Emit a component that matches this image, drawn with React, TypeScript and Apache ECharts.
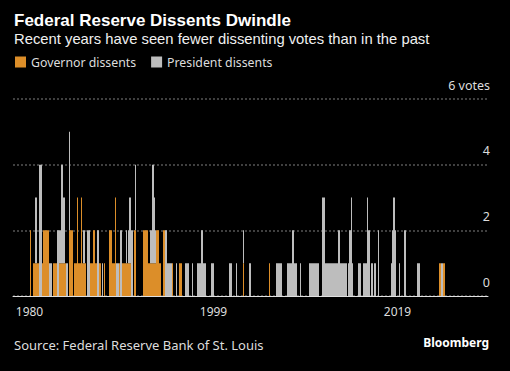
import React, { useEffect, useRef } from "react";
import * as echarts from "echarts";

// One category slot per meeting position along the axis
const MEETING_SLOTS = 475;
const tickMeetings = [16, 200, 384];
const tickLabels = ["1980", "1999", "2019"];
const voteMax = 6;
const voteInterval = 2;

// [firstMeeting, lastMeeting, votes]
const governorRuns: number[][] = [
  [17, 17, 2], [20, 25, 1], [29, 29, 1], [30, 35, 2], [40, 43, 1], [46, 52, 1],
  [56, 59, 2], [61, 63, 1], [64, 64, 3], [65, 67, 1], [68, 68, 3], [69, 72, 1],
  [77, 79, 1], [80, 81, 2], [82, 83, 1], [86, 87, 1], [91, 91, 1], [96, 98, 2],
  [99, 101, 1], [102, 102, 3], [106, 106, 1], [109, 117, 1], [121, 122, 2],
  [130, 134, 2], [135, 142, 1], [143, 145, 2], [146, 147, 1], [150, 151, 2],
  [159, 159, 1], [166, 168, 1], [230, 230, 1], [256, 256, 1], [426, 427, 1],
  [430, 431, 1],
];

const presidentRuns: number[][] = [
  [22, 23, 2], [26, 28, 4], [36, 38, 1], [44, 45, 2], [46, 47, 1], [48, 49, 3],
  [50, 51, 2], [53, 54, 1], [56, 56, 3], [70, 71, 1], [74, 76, 2], [84, 85, 2],
  [89, 89, 1], [103, 105, 1], [107, 108, 2], [113, 113, 1], [115, 115, 1],
  [116, 117, 2], [118, 119, 2], [122, 122, 2], [137, 138, 1], [139, 140, 3],
  [141, 141, 2], [142, 142, 1], [152, 153, 2], [154, 158, 1], [163, 163, 1],
  [172, 175, 1], [179, 179, 1], [184, 187, 1], [188, 189, 2], [190, 192, 1],
  [198, 200, 1], [216, 218, 1], [223, 223, 1], [230, 230, 1], [236, 237, 1],
  [263, 268, 1], [274, 278, 1], [279, 280, 2], [281, 283, 1], [287, 287, 1],
  [296, 305, 1], [309, 311, 3], [312, 324, 1], [325, 326, 2], [327, 333, 1],
  [335, 335, 1], [336, 337, 2], [338, 338, 3], [339, 339, 1], [345, 347, 1],
  [350, 353, 1], [354, 354, 3], [355, 356, 2], [358, 359, 1], [361, 362, 1],
  [365, 365, 2], [378, 378, 1], [379, 379, 2], [380, 381, 3], [382, 382, 2],
  [386, 386, 1], [391, 392, 2], [404, 406, 1], [428, 429, 1],
];

function expand(runs: number[][]): number[] {
  const arr = new Array(MEETING_SLOTS).fill(0);
  runs.forEach(([a, b, v]) => {
    for (let i = a; i <= b; i++) arr[i] = v;
  });
  return arr;
}

const FONT = '"Noto Sans", "Liberation Sans", Arial, sans-serif';
const HEAD_FONT = '"Liberation Sans", Arial, sans-serif';
const ORANGE = "#dc8e29";
const GRAY = "#bdbdbd";

export default function App() {
  const ref = useRef<HTMLDivElement>(null);

  useEffect(() => {
    if (!ref.current) return;
    const chart = echarts.init(ref.current, null, { renderer: "svg" });
    const categories = Array.from({ length: MEETING_SLOTS }, (_, i) => String(i));
    const isTick = (i: number) => tickMeetings.includes(i);

    chart.setOption({
      animation: false,
      backgroundColor: "#000",
      textStyle: { fontFamily: FONT },
      grid: { left: 13, right: 22, top: 99, bottom: 75, containLabel: false },
      legend: {
        left: 10,
        top: 51,
        icon: "rect",
        itemWidth: 11,
        itemHeight: 11,
        itemGap: 15,
        textStyle: { color: "#dddddd", fontSize: 12.3, fontFamily: FONT },
        data: ["Governor dissents", "President dissents"],
      },
      xAxis: {
        type: "category",
        data: categories,
        boundaryGap: true,
        axisLine: { lineStyle: { color: "#e0e0e0", width: 1 } },
        axisTick: {
          alignWithLabel: true,
          interval: (i: number) => isTick(i),
          length: 6,
          lineStyle: { color: "#999999" },
        },
        axisLabel: {
          interval: (i: number) => isTick(i),
          formatter: (_v: string, i: number) => tickLabels[tickMeetings.indexOf(i)] ?? "",
          color: "#dddddd",
          fontSize: 12,
          fontFamily: FONT,
          margin: 9,
        },
        splitLine: { show: false },
      },
      yAxis: {
        type: "value",
        position: "right",
        min: 0,
        max: voteMax,
        interval: voteInterval,
        axisLine: { show: false },
        axisTick: { show: false },
        splitLine: { lineStyle: { color: "#555555", type: [2, 2], width: 1.5 } },
        axisLabel: {
          inside: true,
          margin: -2,
          formatter: (v: number) => (v === voteMax ? `${v} votes` : String(v)),
          color: "#dddddd",
          fontSize: 12.5,
          fontFamily: FONT,
          verticalAlign: "bottom",
          lineHeight: 28,
        },
      },
      series: [
        {
          name: "Governor dissents",
          type: "bar",
          stack: "votes",
          data: expand(governorRuns),
          itemStyle: { color: ORANGE },
          barCategoryGap: "0%",
          barWidth: "100%",
        },
        {
          name: "President dissents",
          type: "bar",
          stack: "votes",
          data: expand(presidentRuns),
          itemStyle: { color: GRAY },
          barCategoryGap: "0%",
          barWidth: "100%",
        },
      ],
      graphic: [
        {
          type: "text",
          x: 14,
          y: 20.3,
          style: {
            text: "Federal Reserve Dissents Dwindle",
            fill: "#ffffff",
            fontSize: 17,
            lineHeight: 16,
            fontWeight: "bold",
            fontFamily: HEAD_FONT,
            verticalAlign: "middle",
          },
        },
        {
          type: "text",
          x: 14,
          y: 38.6,
          style: {
            text: "Recent years have seen fewer dissenting votes than in the past",
            fill: "#f0f0f0",
            fontSize: 14.8,
            lineHeight: 14,
            fontFamily: HEAD_FONT,
            verticalAlign: "middle",
          },
        },
        {
          type: "text",
          x: 14,
          y: 345,
          style: {
            text: "Source: Federal Reserve Bank of St. Louis",
            fill: "#dddddd",
            fontSize: 13,
            fontFamily: FONT,
            verticalAlign: "middle",
          },
        },
        {
          type: "text",
          x: 489,
          y: 342.5,
          style: {
            text: "Bloomberg",
            fill: "#ffffff",
            fontSize: 12,
            fontWeight: "bold",
            fontFamily: FONT,
            align: "right",
            verticalAlign: "middle",
          },
        },
      ],
    });

    return () => chart.dispose();
  }, []);

  return (
    <div
      ref={ref}
      style={{ position: "fixed", left: 0, top: 0, width: 510, height: 371, background: "#000" }}
    />
  );
}
